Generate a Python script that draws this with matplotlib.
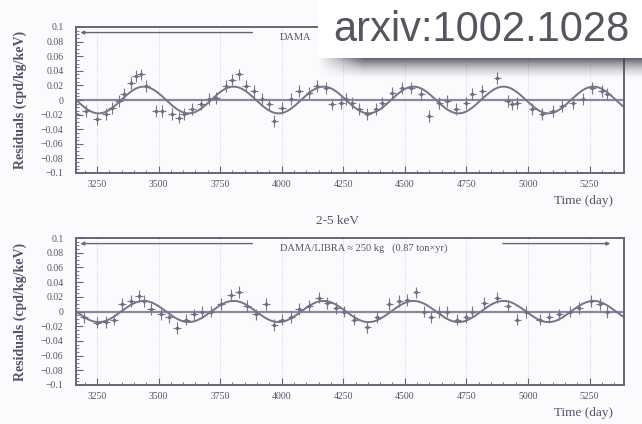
import numpy as np
import matplotlib.pyplot as plt
from matplotlib.patches import Rectangle
from matplotlib.ticker import MultipleLocator, FixedLocator, FixedFormatter

# residual rates (days, cpd/kg/keV)
t_top = [3165, 3205, 3250, 3287, 3311, 3339, 3360, 3388, 3408, 3429, 3449,
         3490, 3514, 3555, 3583, 3604, 3636, 3673, 3705, 3734, 3774, 3799,
         3827, 3856, 3888, 3921, 3950, 3970, 4002, 4039, 4071, 4112, 4144,
         4181, 4205, 4242, 4262, 4287, 4315, 4348, 4384, 4409, 4450, 4490,
         4527, 4567, 4600, 4640, 4673, 4709, 4750, 4774, 4815, 4876, 4917,
         4937, 4957, 5018, 5059, 5100, 5140, 5181, 5222, 5262, 5299, 5323]
r_top = [-0.019, -0.015, -0.026, -0.019, -0.011, -0.001, 0.008, 0.023, 0.033,
         0.035, 0.019, -0.015, -0.015, -0.019, -0.024, -0.019, -0.012, -0.006,
         0.001, 0.003, 0.019, 0.028, 0.035, 0.019, 0.012, 0.001, -0.006,
         -0.029, -0.011, 0.001, 0.012, 0.010, 0.019, 0.016, -0.006, -0.004,
         0.001, -0.004, -0.012, -0.019, -0.012, -0.004, 0.010, 0.016, 0.016,
         0.008, -0.022, -0.004, -0.001, -0.012, -0.004, 0.008, 0.012, 0.030,
         -0.001, -0.006, -0.004, -0.012, -0.019, -0.015, -0.008, -0.004,
         0.001, 0.016, 0.012, 0.008]

t_bot = [3165, 3197, 3250, 3287, 3319, 3352, 3388, 3421, 3441, 3469, 3510,
         3543, 3575, 3612, 3644, 3677, 3713, 3754, 3795, 3827, 3860, 3896,
         3937, 3970, 4002, 4039, 4071, 4112, 4152, 4185, 4222, 4254, 4295,
         4348, 4388, 4437, 4478, 4510, 4547, 4579, 4608, 4640, 4673, 4713,
         4750, 4774, 4823, 4876, 4917, 4957, 4994, 5047, 5087, 5128, 5169,
         5209, 5258, 5291, 5323]
r_bot = [-0.001, -0.008, -0.015, -0.014, -0.011, 0.010, 0.014, 0.021, 0.014,
         0.003, -0.004, -0.007, -0.022, -0.011, -0.004, -0.001, 0.000, 0.010,
         0.023, 0.027, 0.007, -0.004, 0.010, -0.018, -0.011, -0.007, 0.003,
         0.007, 0.019, 0.012, 0.005, 0.000, -0.011, -0.021, -0.007, 0.010,
         0.014, 0.016, 0.026, 0.000, -0.008, -0.001, 0.000, -0.011, -0.007,
         0.000, 0.012, 0.019, 0.007, -0.011, -0.001, -0.011, -0.008, -0.004,
         0.000, 0.005, 0.014, 0.010, -0.001]

# fitted modulation: A cos(2pi/T (t - t0))
amp_top = 0.0183
amp_bot = 0.0144
period = 365.25
phase = 152.5

x_ticks = [3250, 3500, 3750, 4000, 4250, 4500, 4750, 5000, 5250]
y_ticks = [0.1, 0.08, 0.06, 0.04, 0.02, 0, -0.02, -0.04, -0.06, -0.08, -0.1]
y_labels = ["0.1", "0.08", "0.06", "0.04", "0.02", "0",
            "\u22120.02", "\u22120.04", "\u22120.06", "\u22120.08", "\u22120.1"]

# top panel label is mostly hidden by the slide's overlay box
legend_top = "DAMA"
legend_bot = "DAMA/LIBRA \u2248 250 kg   (0.87 ton\u00d7yr)"

ink = "#66667a"
serif = ["Liberation Serif", "DejaVu Serif"]

fig = plt.figure(figsize=(6.42, 4.24), dpi=100)
fig.patch.set_facecolor("#fbfbfd")

ax_top = fig.add_axes([76 / 642, 1 - 173 / 424, 548 / 642, 146 / 424])
ax_bot = fig.add_axes([76 / 642, 1 - 385 / 424, 548 / 642, 147 / 424])

tt = np.linspace(3165, 5390, 800)
panels = [(ax_top, t_top, r_top, amp_top, legend_top),
          (ax_bot, t_bot, r_bot, amp_bot, legend_bot)]
for ax, t, r, amp, legend_txt in panels:
    ax.set_facecolor("#fbfbfd")
    ax.set_xlim(3165, 5390)
    ax.set_ylim(-0.1, 0.1)
    for xv in x_ticks:
        ax.axvline(xv, color="#c8c8d4", lw=0.6, ls=":", zorder=0)
    ax.axhline(0, color="#8a8a9c", lw=1.6, zorder=1)
    ax.plot(tt, amp * np.cos(2 * np.pi / period * (tt - phase)), color="#75758a", lw=1.4, zorder=2)
    ax.errorbar(t, r, yerr=0.008, xerr=15, fmt="o", ms=1.6, color="#707084",
                ecolor="#77778b", elinewidth=0.8, capsize=0, zorder=3)

    ax.xaxis.set_major_locator(FixedLocator(x_ticks))
    ax.xaxis.set_minor_locator(MultipleLocator(50))
    ax.yaxis.set_major_locator(FixedLocator(y_ticks))
    ax.yaxis.set_major_formatter(FixedFormatter(y_labels))
    ax.yaxis.set_minor_locator(MultipleLocator(0.005))
    ax.tick_params(which="both", direction="in", colors=ink, labelcolor="#55556a")
    ax.tick_params(which="major", length=5, width=0.8, labelsize=7)
    ax.tick_params(axis="y", which="major", pad=9)
    ax.tick_params(axis="x", which="major", pad=5)
    ax.tick_params(which="minor", length=2.5, width=0.6)
    for lab in ax.get_xticklabels() + ax.get_yticklabels():
        lab.set_family(serif)
    for sp in ax.spines.values():
        sp.set_color(ink)
        sp.set_linewidth(1.4)

    ax.set_ylabel("Residuals (cpd/kg/keV)", fontsize=10, fontweight="bold",
                  family=serif, color="#55556a", labelpad=10)
    ax.text(0.98, -0.15, "Time (day)", transform=ax.transAxes, ha="right",
            va="top", fontsize=9.5, family=serif, color="#55556a")

    # exposure span with arrows either side of the label
    ax.annotate("", xy=(0.003, 0.962), xytext=(0.327, 0.962), xycoords="axes fraction",
                arrowprops=dict(arrowstyle="-|>", color=ink, lw=1.0, mutation_scale=5))
    ax.annotate("", xy=(0.98, 0.962), xytext=(0.774, 0.962), xycoords="axes fraction",
                arrowprops=dict(arrowstyle="-|>", color=ink, lw=1.0, mutation_scale=5))
    ax.text(0.372, 0.93, legend_txt, transform=ax.transAxes, ha="left", va="center",
            fontsize=7.5, family=serif, color="#55556a")

fig.text(338 / 642, 1 - 221 / 424, "2-5 keV", ha="center", va="center",
         fontsize=9.5, family=serif, color="#55556a")

# slide overlay: white label box with a drop shadow
fig.add_artist(Rectangle((318 / 642, 1 - 58 / 424), 324 / 642, 58 / 424,
                         transform=fig.transFigure, facecolor="white",
                         edgecolor="none", zorder=10))
sh_ax = fig.add_axes([318 / 642, 1 - 80 / 424, 324 / 642, 22 / 424], zorder=9)
sh_ax.axis("off")
v = np.linspace(0, 1, 22)[:, None]
h = np.clip(np.linspace(0, 1, 324)[None, :] / 0.14, 0, 1)
shadow = np.zeros((22, 324, 4))
shadow[..., 0] = 60 / 255
shadow[..., 1] = 60 / 255
shadow[..., 2] = 78 / 255
shadow[..., 3] = 0.85 * (1 - v) ** 1.6 * h
sh_ax.imshow(shadow, aspect="auto", extent=(0, 1, 0, 1))
sh_ax.set_xlim(0, 1)
sh_ax.set_ylim(0, 1)

fig.text(481 / 642, 1 - 30 / 424, "arxiv:1002.1028", ha="center", va="center",
         fontsize=30, family=["Liberation Sans", "DejaVu Sans"], color="#55555f",
         zorder=11)

fig.savefig("out.png", dpi=100, facecolor=fig.get_facecolor())
